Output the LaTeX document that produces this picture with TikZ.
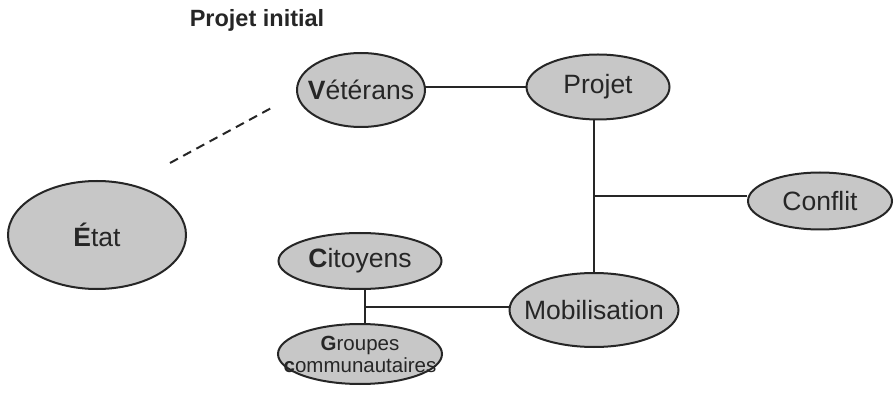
\documentclass[tikz,border=0pt]{standalone}
\usepackage{fontspec}
\setmainfont{Liberation Sans}
\usetikzlibrary{shapes.geometric}
\begin{document}
\begin{tikzpicture}[x=1pt,y=-1pt,
  bub/.style={ellipse,draw=black!85,line width=2pt,fill=black!22,inner xsep=-35pt,inner ysep=-10pt,font=\fontsize{26.5}{28}\selectfont,text=black!85},
  con/.style={line width=2pt,draw=black!85}]
\useasboundingbox (0,0) rectangle (896,395);
\node[font=\bfseries\fontsize{23.5}{26}\selectfont,text=black!85] (title) at (257,20) {Projet initial};
\node[bub,minimum width=128pt,minimum height=74pt] (vet) at (361,90) {\textbf{V}étérans};
\node[bub,minimum width=143pt,minimum height=65pt] (proj) at (598,87) {Projet};
\node[bub,minimum width=144pt,minimum height=57pt] (conf) at (820,201) {Conflit};
\node[bub,minimum width=169pt,minimum height=74pt] (mob) at (594,310) {Mobilisation};
\node[bub,minimum width=163pt,minimum height=56pt] (cit) at (360,261) {\textbf{C}itoyens};
\node[bub,minimum width=164pt,minimum height=60pt,align=center,font=\fontsize{20.5}{22}\selectfont] (grp) at (360,354) {\textbf{G}roupes\\\textbf{c}ommunautaires};
\node[bub,minimum width=178pt,minimum height=108pt] (etat) at (97,235) {\textbf{É}tat};
\coordinate (d1) at (170,163);
\coordinate (d2) at (275,106);
\coordinate (jc) at (594,196);
\coordinate (jm) at (365,307);
\coordinate (jv) at (425,87);
\draw[con] (jv) -- (jv -| proj.west);
\draw[con] (proj.south -| jc) -- (mob.north -| jc);
\draw[con] (jc) -- (jc -| conf.west);
\draw[con] (cit.south -| jm) -- (grp.north -| jm);
\draw[con] (jm) -- (jm -| mob.west);
\draw[con,dash pattern=on 9pt off 6pt] (d1) -- (d2);
\end{tikzpicture}
\end{document}
